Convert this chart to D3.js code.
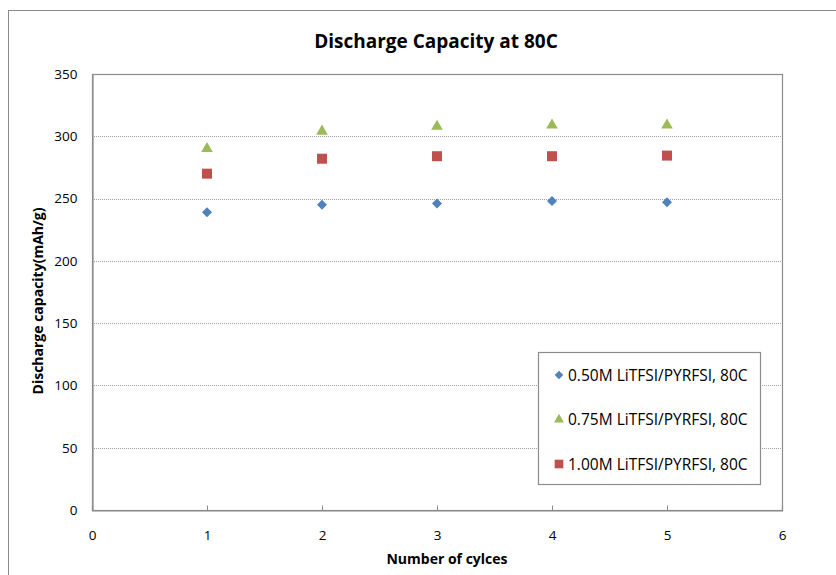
<!DOCTYPE html>
<html>
<head>
<meta charset="utf-8">
<script src="https://cdn.jsdelivr.net/npm/d3@7"></script>
<style>
  html, body { margin: 0; padding: 0; background: #fff; }
  svg text { font-family: "Open Sans", "Liberation Sans", sans-serif; fill: #000; }
</style>
</head>
<body>
<svg id="chart" width="836" height="575"></svg>
<script>
// Discharge capacity (mAh/g) per cycle for three salt concentrations at 80C
const cycles = [1, 2, 3, 4, 5];
const cap050 = [239, 245, 246, 248, 247];
const cap075 = [290, 304, 308, 309, 309];
const cap100 = [270, 282, 284, 284, 284.5];
const xTicks = [0, 1, 2, 3, 4, 5, 6];
const yTicks = [0, 50, 100, 150, 200, 250, 300, 350];
const seriesNames = ["0.50M LiTFSI/PYRFSI, 80C", "0.75M LiTFSI/PYRFSI, 80C", "1.00M LiTFSI/PYRFSI, 80C"];

const series = [
  { name: seriesNames[0], values: cap050, symbol: d3.symbolDiamond2, color: "#4F81BD", size: 64 },
  { name: seriesNames[1], values: cap075, symbol: d3.symbolTriangle, color: "#9BBB59", size: 58 },
  { name: seriesNames[2], values: cap100, symbol: d3.symbolSquare, color: "#C0504D", size: 100 }
];

const svg = d3.select("#chart");
const W = 836, H = 575;
const plot = { left: 92, top: 74, right: 782, bottom: 510 };

// outer chart frame
svg.append("rect")
  .attr("x", 8.5).attr("y", 10.5)
  .attr("width", W + 10).attr("height", H + 10)
  .attr("fill", "#fff").attr("stroke", "#8a8a8a").attr("stroke-width", 1);

const x = d3.scaleLinear().domain([0, 6]).range([plot.left, plot.right]);
const y = d3.scaleLinear().domain([0, 350]).range([plot.bottom, plot.top]);

// horizontal dotted gridlines
svg.append("g")
  .selectAll("line")
  .data(yTicks.filter(v => v > 0 && v < 350))
  .join("line")
  .attr("x1", plot.left).attr("x2", plot.right)
  .attr("y1", d => Math.round(y(d)) + 0.5).attr("y2", d => Math.round(y(d)) + 0.5)
  .attr("stroke", "#a0a0a0").attr("stroke-width", 1).attr("stroke-dasharray", "1,1");

// plot area border
svg.append("rect")
  .attr("x", plot.left + 0.5).attr("y", plot.top + 0.5)
  .attr("width", plot.right - plot.left).attr("height", plot.bottom - plot.top)
  .attr("fill", "none").attr("stroke", "#8c8c8c").attr("stroke-width", 1.2);

// x axis with short inward ticks
const xAxis = svg.append("g")
  .attr("transform", `translate(0,${plot.bottom + 0.5})`)
  .call(d3.axisBottom(x).tickValues(xTicks).tickSize(-5).tickPadding(20).tickFormat(d3.format("d")));
xAxis.select(".domain").attr("stroke", "#8c8c8c").attr("stroke-width", 1.2);
xAxis.selectAll(".tick line").attr("stroke", "#8c8c8c");
xAxis.selectAll(".tick text").attr("font-size", 13.5).style("fill", "#000");

// y axis labels
const yAxis = svg.append("g")
  .attr("transform", `translate(${plot.left + 0.5},0)`)
  .call(d3.axisLeft(y).tickValues(yTicks).tickSize(0).tickPadding(15).tickFormat(d3.format("d")));
yAxis.select(".domain").attr("stroke", "#8c8c8c").attr("stroke-width", 1.2);
yAxis.selectAll(".tick text").attr("font-size", 13.5).style("fill", "#000");

// markers
series.forEach(s => {
  svg.append("g")
    .selectAll("path")
    .data(s.values)
    .join("path")
    .attr("d", d3.symbol().type(s.symbol).size(s.size))
    .attr("transform", (d, i) => `translate(${x(cycles[i])},${y(d)})`)
    .attr("fill", s.color);
});

// titles
svg.append("text")
  .attr("x", 436).attr("y", 48)
  .attr("text-anchor", "middle")
  .attr("font-size", 19).attr("font-weight", "bold")
  .text("Discharge Capacity at 80C");

svg.append("text")
  .attr("x", 447).attr("y", 564)
  .attr("text-anchor", "middle")
  .attr("font-size", 14).attr("font-weight", "bold")
  .text("Number of cylces");

svg.append("text")
  .attr("transform", "translate(43,301) rotate(-90)")
  .attr("text-anchor", "middle")
  .attr("font-size", 14).attr("font-weight", "bold")
  .text("Discharge capacity(mAh/g)");

// legend (ordered diamond, triangle, square)
const legend = svg.append("g");
legend.append("rect")
  .attr("x", 538.5).attr("y", 352.5)
  .attr("width", 222).attr("height", 132)
  .attr("fill", "#fff").attr("stroke", "#8c8c8c").attr("stroke-width", 1.2);
const legendRows = [series[0], series[1], series[2]];
const ly = d3.scalePoint().domain(legendRows.map(d => d.name)).range([375, 464]);
legendRows.forEach(s => {
  legend.append("path")
    .attr("d", d3.symbol().type(s.symbol).size(s.size * 0.75))
    .attr("transform", `translate(559,${ly(s.name)})`)
    .attr("fill", s.color);
  legend.append("text")
    .attr("x", 568).attr("y", ly(s.name))
    .attr("dy", "0.36em")
    .attr("font-size", 15.5)
    .text(s.name);
});
</script>
</body>
</html>
